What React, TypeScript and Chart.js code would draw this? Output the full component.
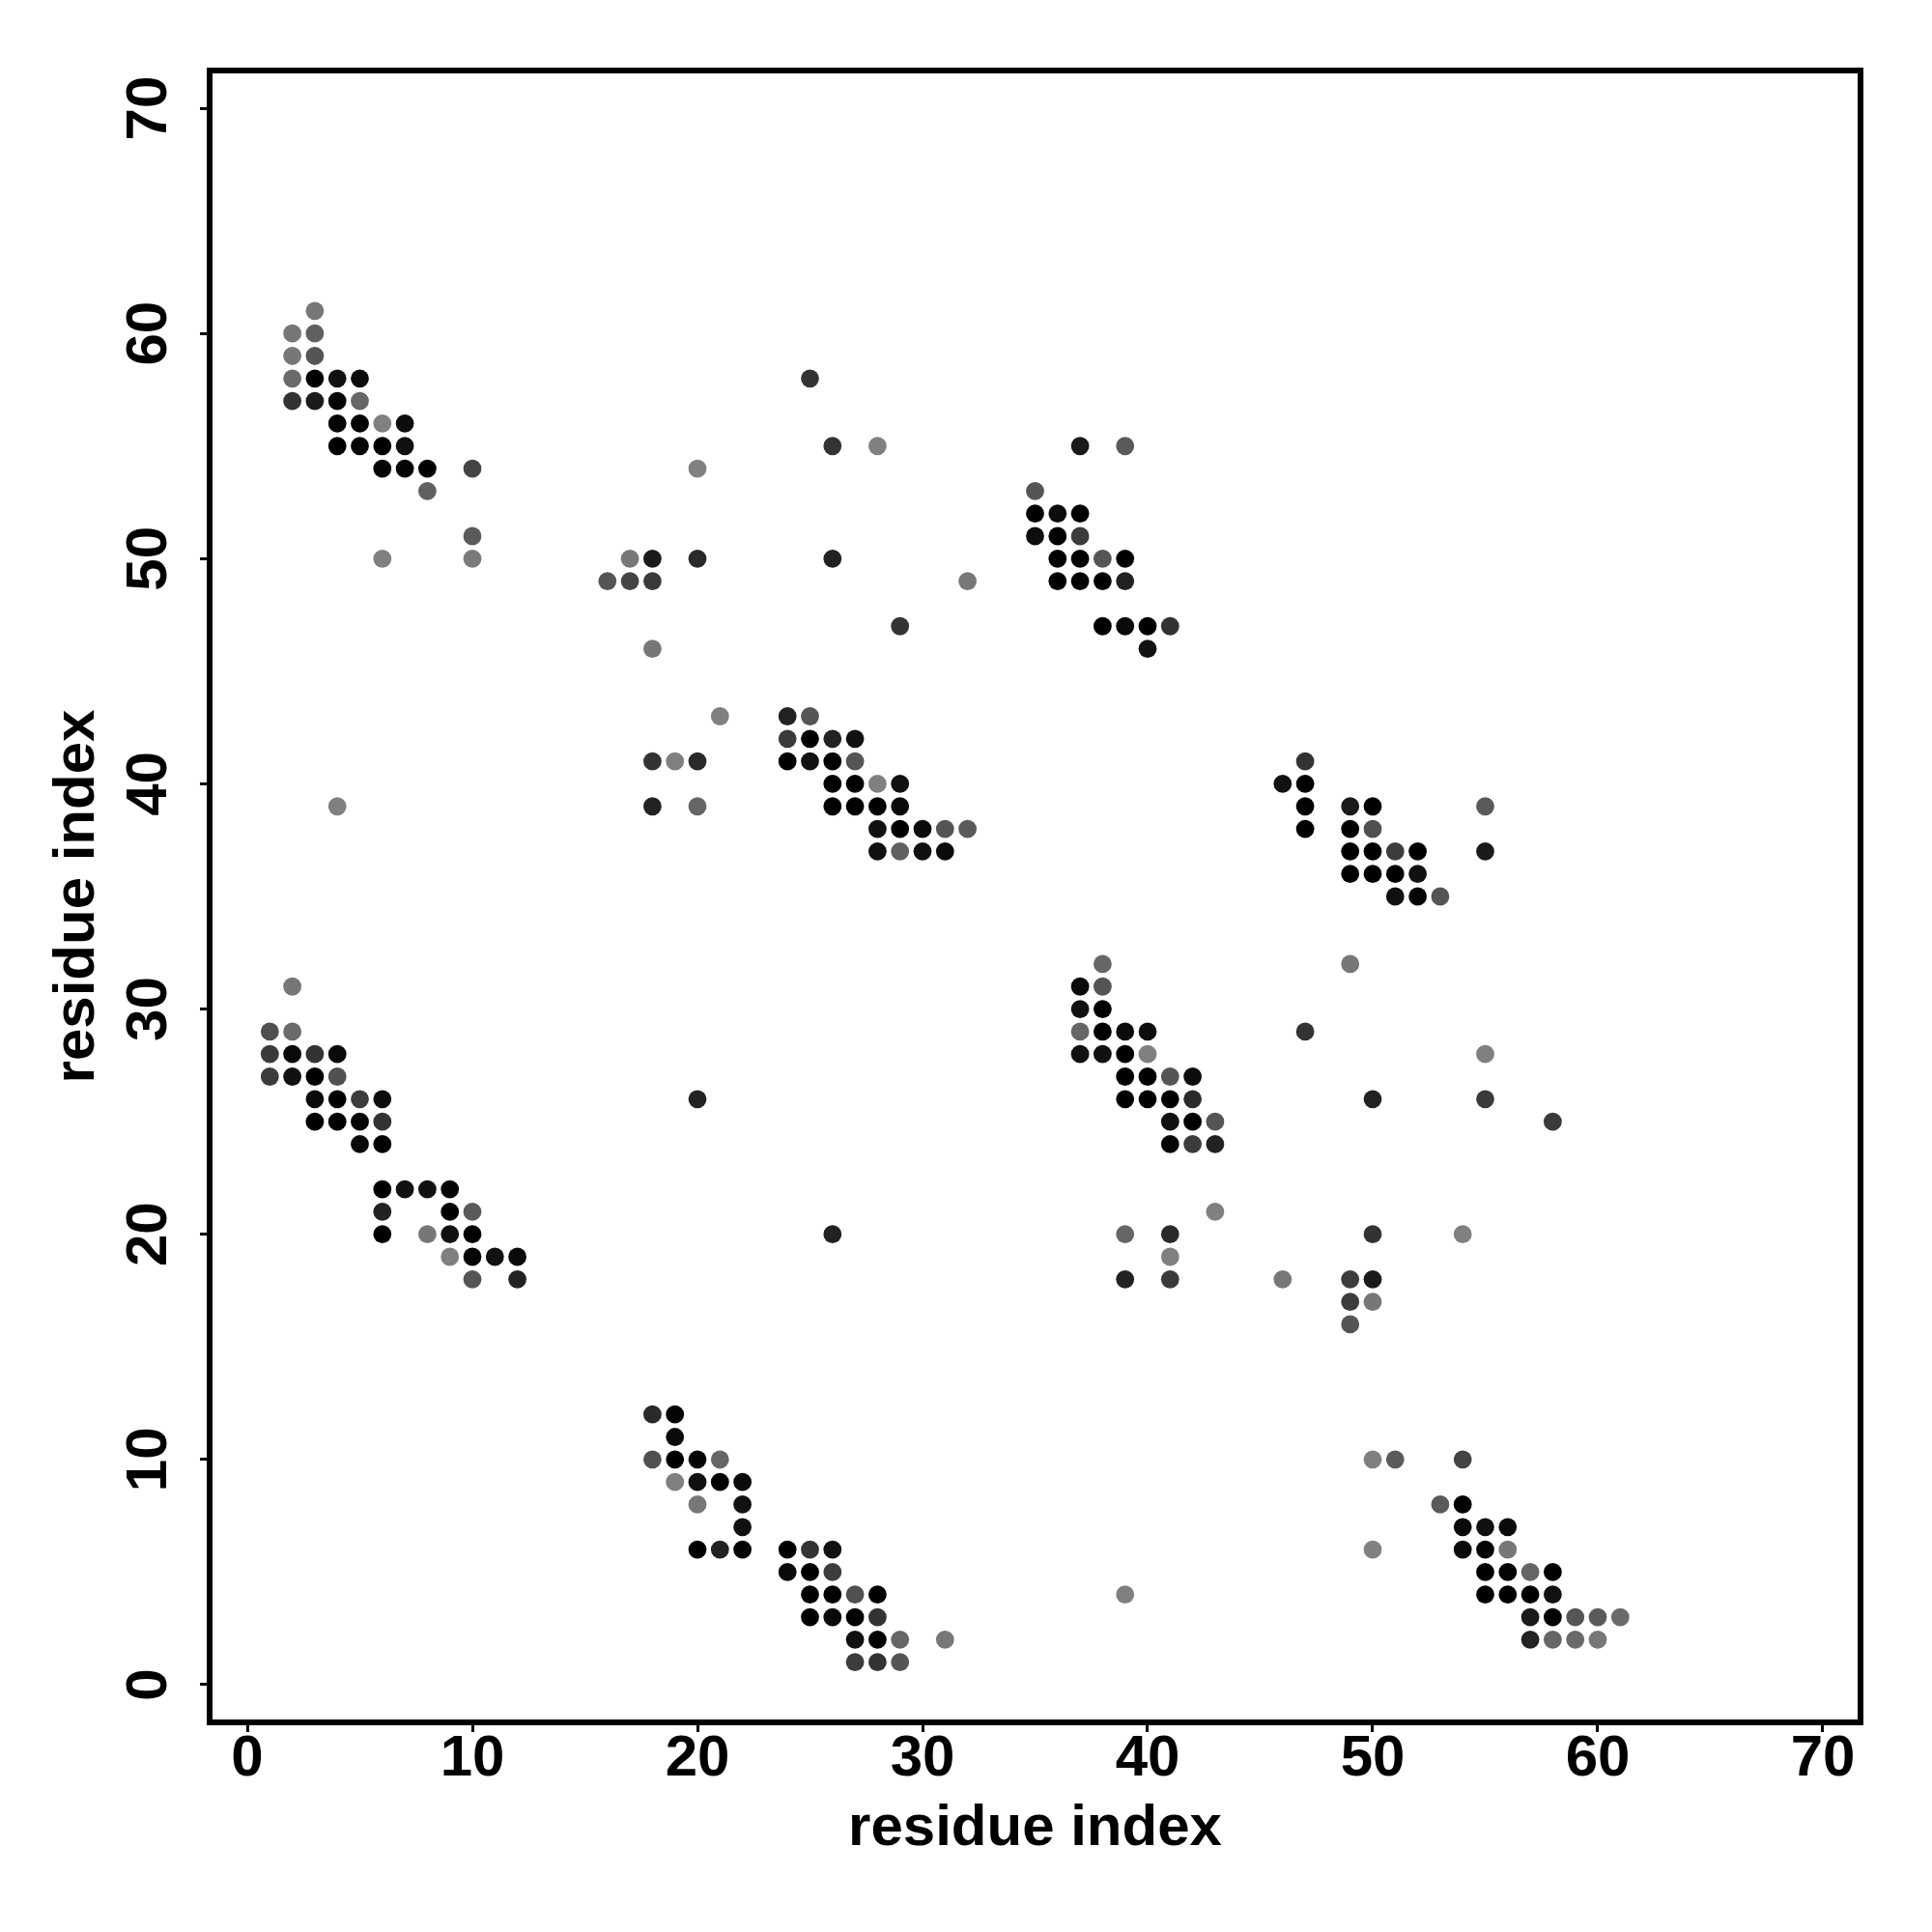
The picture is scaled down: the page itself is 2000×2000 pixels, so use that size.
import React, { useEffect, useRef } from "react";
import { Chart, registerables } from "chart.js";

Chart.register(...registerables);

// Each contact: [residue i, residue j, grey level 0-255]
type Contact = [number, number, number];

const clusterTopLeft: Contact[] = [
  [3, 61, 119], [2, 60, 119], [3, 60, 96], [2, 59, 119], [3, 59, 85],
  [2, 58, 106], [3, 58, 0], [4, 58, 17], [5, 58, 10],
  [2, 57, 51], [3, 57, 26], [4, 57, 5], [5, 57, 102],
  [4, 56, 5], [5, 56, 0], [6, 56, 128], [7, 56, 13],
  [4, 55, 0], [5, 55, 5], [6, 55, 0], [7, 55, 17],
  [6, 54, 5], [7, 54, 5], [8, 54, 0], [10, 54, 68],
  [8, 53, 96], [10, 51, 90], [6, 50, 128], [10, 50, 122], [4, 39, 128],
];

const clusterMidUpper: Contact[] = [
  [25, 58, 51], [26, 55, 51], [28, 55, 128], [20, 54, 128],
  [17, 50, 119], [18, 50, 26], [20, 50, 42], [26, 50, 34],
  [16, 49, 85], [17, 49, 68], [18, 49, 58], [32, 49, 119],
  [29, 47, 51], [18, 46, 119], [21, 43, 128], [24, 43, 34], [25, 43, 85],
  [24, 42, 58], [25, 42, 0], [26, 42, 34], [27, 42, 17],
  [18, 41, 51], [19, 41, 128], [20, 41, 42], [24, 41, 0], [25, 41, 17], [26, 41, 0], [27, 41, 85],
  [26, 40, 0], [27, 40, 0], [28, 40, 128], [29, 40, 17],
  [18, 39, 34], [20, 39, 102], [26, 39, 0], [27, 39, 0], [28, 39, 0], [29, 39, 10],
  [28, 38, 17], [29, 38, 0], [30, 38, 10], [31, 38, 85], [32, 38, 90],
  [28, 37, 17], [29, 37, 96], [30, 37, 17], [31, 37, 10],
];

const clusterUpperRight: Contact[] = [
  [37, 55, 26], [39, 55, 90], [35, 53, 85],
  [35, 52, 0], [36, 52, 13], [37, 52, 0],
  [35, 51, 13], [36, 51, 0], [37, 51, 60],
  [36, 50, 0], [37, 50, 0], [38, 50, 85], [39, 50, 0],
  [36, 49, 0], [37, 49, 0], [38, 49, 0], [39, 49, 34],
  [38, 47, 0], [39, 47, 10], [40, 47, 0], [41, 47, 51], [40, 46, 17],
];

const clusterRightMid: Contact[] = [
  [47, 41, 51], [46, 40, 17], [47, 40, 0],
  [47, 39, 0], [49, 39, 26], [50, 39, 0], [55, 39, 90],
  [47, 38, 0], [49, 38, 0], [50, 38, 80],
  [49, 37, 0], [50, 37, 0], [51, 37, 60], [52, 37, 0], [55, 37, 26],
  [49, 36, 0], [50, 36, 0], [51, 36, 0], [52, 36, 17],
  [51, 35, 17], [52, 35, 5], [53, 35, 85],
];

const clusterLeftLower: Contact[] = [
  [2, 31, 119], [1, 29, 80], [2, 29, 106],
  [1, 28, 58], [2, 28, 10], [3, 28, 51], [4, 28, 10],
  [1, 27, 60], [2, 27, 17], [3, 27, 0], [4, 27, 80],
  [3, 26, 10], [4, 26, 0], [5, 26, 60], [6, 26, 13],
  [3, 25, 0], [4, 25, 0], [5, 25, 5], [6, 25, 51],
  [5, 24, 10], [6, 24, 0],
  [6, 22, 0], [7, 22, 17], [8, 22, 17], [9, 22, 5],
  [6, 21, 34], [9, 21, 0], [10, 21, 90],
  [6, 20, 0], [8, 20, 119], [9, 20, 17], [10, 20, 0],
  [9, 19, 128], [10, 19, 5], [11, 19, 17], [12, 19, 10],
  [10, 18, 85], [12, 18, 34], [20, 26, 34], [26, 20, 34],
];

const clusterRightLower: Contact[] = [
  [38, 32, 102], [49, 32, 119], [37, 31, 10], [38, 31, 85],
  [37, 30, 17], [38, 30, 0],
  [37, 29, 102], [38, 29, 0], [39, 29, 10], [40, 29, 13], [47, 29, 51],
  [37, 28, 17], [38, 28, 17], [39, 28, 0], [40, 28, 128], [55, 28, 128],
  [39, 27, 0], [40, 27, 0], [41, 27, 85], [42, 27, 13],
  [39, 26, 0], [40, 26, 0], [41, 26, 0], [42, 26, 42], [50, 26, 34], [55, 26, 58],
  [41, 25, 17], [42, 25, 0], [43, 25, 85], [58, 25, 58],
  [41, 24, 5], [42, 24, 60], [43, 24, 34],
  [43, 21, 128], [39, 20, 102], [41, 20, 42], [50, 20, 51], [54, 20, 128],
  [41, 19, 128], [39, 18, 34], [41, 18, 58], [46, 18, 119], [49, 18, 60], [50, 18, 26],
  [49, 17, 60], [50, 17, 119], [49, 16, 85],
];

const clusterBottomMid: Contact[] = [
  [18, 12, 42], [19, 12, 5], [19, 11, 10],
  [18, 10, 80], [19, 10, 0], [20, 10, 5], [21, 10, 102],
  [19, 9, 128], [20, 9, 17], [21, 9, 0], [22, 9, 10],
  [20, 8, 119], [22, 8, 17], [22, 7, 17],
  [20, 6, 0], [21, 6, 34], [22, 6, 5], [24, 6, 0], [25, 6, 51], [26, 6, 17],
  [24, 5, 10], [25, 5, 0], [26, 5, 60],
  [25, 4, 0], [26, 4, 0], [27, 4, 80], [28, 4, 0],
  [25, 3, 0], [26, 3, 10], [27, 3, 0], [28, 3, 51],
  [27, 2, 17], [28, 2, 0], [29, 2, 102], [31, 2, 119],
  [27, 1, 60], [28, 1, 51], [29, 1, 85], [39, 4, 128],
];

const clusterBottomRight: Contact[] = [
  [50, 10, 128], [51, 10, 90], [54, 10, 68],
  [53, 8, 90], [54, 8, 0],
  [54, 7, 10], [55, 7, 17], [56, 7, 10],
  [50, 6, 128], [54, 6, 10], [55, 6, 5], [56, 6, 119],
  [55, 5, 0], [56, 5, 5], [57, 5, 102], [58, 5, 0],
  [55, 4, 0], [56, 4, 0], [57, 4, 0], [58, 4, 17],
  [57, 3, 26], [58, 3, 0], [59, 3, 85], [60, 3, 90], [61, 3, 106],
  [57, 2, 34], [58, 2, 102], [59, 2, 106], [60, 2, 119],
];

const clusters: Contact[][] = [
  clusterTopLeft, clusterMidUpper, clusterUpperRight, clusterRightMid,
  clusterLeftLower, clusterRightLower, clusterBottomMid, clusterBottomRight,
];

const xTickValues = [0, 10, 20, 30, 40, 50, 60, 70];
const yTickValues = [0, 10, 20, 30, 40, 50, 60, 70];
const xAxisTitle = "residue index";
const yAxisTitle = "residue index";
const axisMin = -1.674;
const axisMax = 71.674;

const FONT_FAMILY = '"Liberation Sans", Arial, Helvetica, sans-serif';

const greyColor = (g: number) => `rgb(${g},${g},${g})`;

const boxPlugin = {
  id: "rBox",
  afterDatasetsDraw(chart: any) {
    const { ctx, chartArea } = chart;
    ctx.save();
    ctx.strokeStyle = "#000";
    ctx.lineWidth = 6;
    ctx.lineJoin = "miter";
    ctx.strokeRect(chartArea.left, chartArea.top, chartArea.right - chartArea.left, chartArea.bottom - chartArea.top);
    ctx.restore();
  },
};

const yTickLabelPlugin = {
  id: "rYTickLabels",
  afterDraw(chart: any) {
    const { ctx } = chart;
    const yScale = chart.scales.y;
    ctx.save();
    ctx.font = `bold 60px ${FONT_FAMILY}`;
    ctx.fillStyle = "#000";
    ctx.textAlign = "center";
    ctx.textBaseline = "alphabetic";
    yScale.ticks.forEach((t: any) => {
      const py = yScale.getPixelForValue(t.value);
      ctx.save();
      ctx.translate(172, py);
      ctx.rotate(-Math.PI / 2);
      ctx.fillText(String(t.value), 0, 0);
      ctx.restore();
    });
    ctx.restore();
  },
};

export default function App() {
  const canvasRef = useRef<HTMLCanvasElement | null>(null);

  useEffect(() => {
    if (!canvasRef.current) return;
    const datasets = clusters.map((c, idx) => ({
      label: `cluster ${idx + 1}`,
      data: c.map(([x, y]) => ({ x, y })),
      pointBackgroundColor: c.map((p) => greyColor(p[2])),
      pointBorderColor: c.map((p) => greyColor(p[2])),
      pointBorderWidth: 0,
      pointRadius: 9.4,
      showLine: false,
    }));

    const tickFont = { family: FONT_FAMILY, size: 60, weight: "bold" as const, lineHeight: 1.2 };

    const chart = new Chart(canvasRef.current, {
      type: "scatter",
      data: { datasets },
      options: {
        animation: false,
        responsive: false,
        devicePixelRatio: 1,
        layout: { padding: { top: 73, right: 74, left: 0, bottom: 0 } },
        plugins: { legend: { display: false }, tooltip: { enabled: false } },
        scales: {
          x: {
            type: "linear",
            min: axisMin,
            max: axisMax,
            afterBuildTicks: (s: any) => {
              s.ticks = xTickValues.map((v) => ({ value: v }));
            },
            afterFit: (s: any) => {
              s.height = 217;
            },
            grid: { display: true, drawOnChartArea: false, drawTicks: true, tickLength: 10, tickWidth: 3, tickColor: "#000", color: "#000" },
            border: { display: false },
            ticks: { color: "#000", font: tickFont, padding: -8, maxRotation: 0, minRotation: 0, autoSkip: false },
            title: { display: true, text: xAxisTitle, color: "#000", font: tickFont, padding: { top: 0, bottom: 71 } },
          },
          y: {
            type: "linear",
            min: axisMin,
            max: axisMax,
            afterBuildTicks: (s: any) => {
              s.ticks = yTickValues.map((v) => ({ value: v }));
            },
            afterFit: (s: any) => {
              s.width = 217;
            },
            grid: { display: true, drawOnChartArea: false, drawTicks: true, tickLength: 10, tickWidth: 3, tickColor: "#000", color: "#000" },
            border: { display: false },
            ticks: { display: false },
            title: { display: true, text: yAxisTitle, color: "#000", font: tickFont, padding: { top: 44, bottom: 0 } },
          },
        },
      },
      plugins: [boxPlugin, yTickLabelPlugin],
    });
    return () => chart.destroy();
  }, []);

  return (
    <div style={{ position: "absolute", left: 0, top: 0, width: 2000, height: 2000, background: "#fff" }}>
      <canvas ref={canvasRef} width={2000} height={2000} style={{ width: 2000, height: 2000, display: "block" }} />
    </div>
  );
}
